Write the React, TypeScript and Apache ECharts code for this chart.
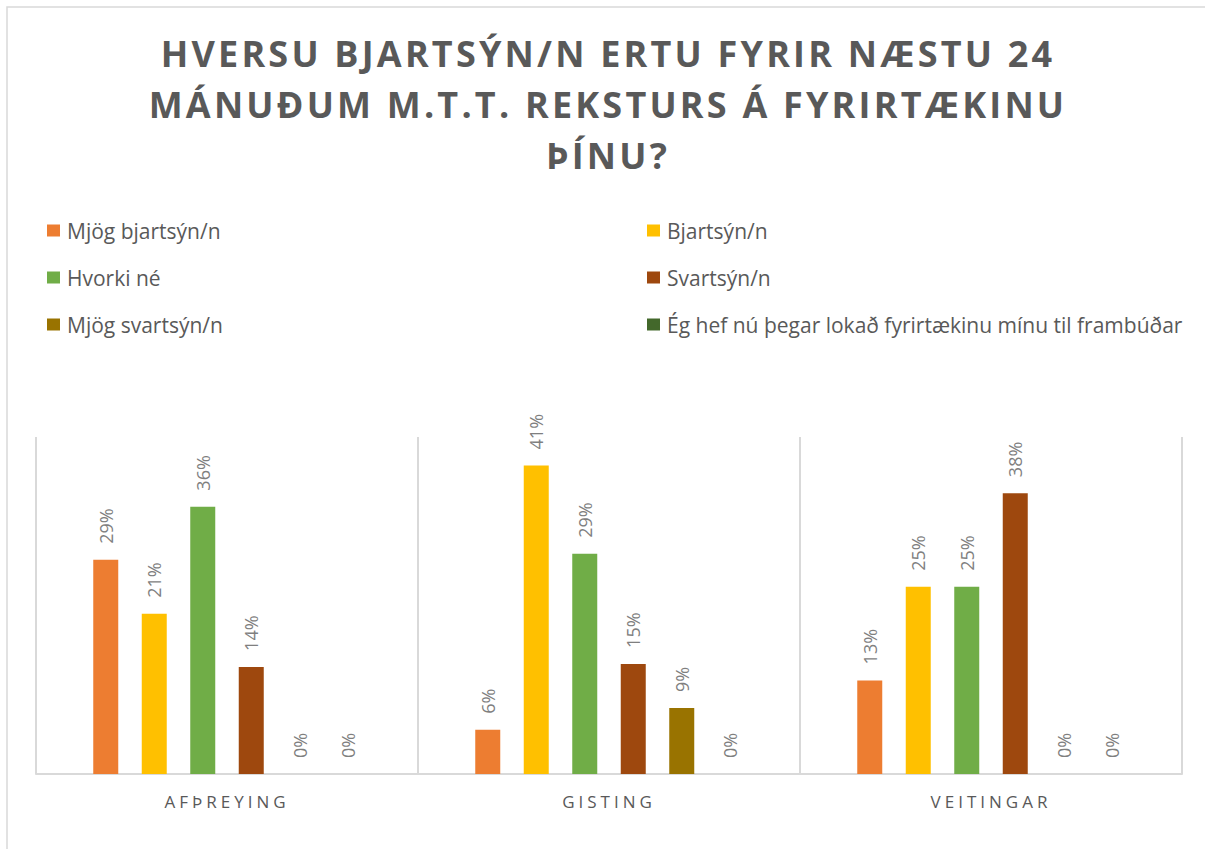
import React, { useEffect, useRef } from "react";
import * as echarts from "echarts";

const titleLines = [
  "HVERSU BJARTSÝN/N ERTU FYRIR NÆSTU 24",
  "MÁNUÐUM M.T.T. REKSTURS Á FYRIRTÆKINU",
  "ÞÍNU?",
];

const categories = ["AFÞREYING", "GISTING", "VEITINGAR"];

const seriesNames = [
  "Mjög bjartsýn/n",
  "Bjartsýn/n",
  "Hvorki né",
  "Svartsýn/n",
  "Mjög svartsýn/n",
  "Ég hef nú þegar lokað fyrirtækinu mínu til frambúðar",
];

const seriesColors = ["#ED7D31", "#FFC000", "#70AD47", "#9E480E", "#997300", "#43682B"];

// percent values per series: [Afþreying, Gisting, Veitingar]
const mjogBjartsyn = [28.6, 5.9, 12.5];
const bjartsyn = [21.4, 41.2, 25.0];
const hvorkiNe = [35.7, 29.4, 25.0];
const svartsyn = [14.3, 14.7, 37.5];
const mjogSvartsyn = [0, 8.8, 0];
const lokad = [0, 0, 0];

const seriesValues = [mjogBjartsyn, bjartsyn, hvorkiNe, svartsyn, mjogSvartsyn, lokad];

const FONT = "'Open Sans', 'Noto Sans', sans-serif";

export default function App() {
  const ref = useRef<HTMLDivElement>(null);

  useEffect(() => {
    if (!ref.current) return;
    const el = ref.current;
    const chart = echarts.init(el, undefined, { renderer: "svg" });

    const series = seriesNames.map((name, i) => ({
      name,
      type: "bar",
      data: seriesValues[i],
      barWidth: 25,
      barGap: "94%",
      itemStyle: { color: seriesColors[i] },
      label: {
        show: true,
        position: "top",
        rotate: 90,
        align: "left",
        verticalAlign: "middle",
        distance: 16,
        fontFamily: FONT,
        fontSize: 18,
        color: "#7F7F7F",
        formatter: (p: any) => `${Math.round(p.value)}%`,
      },
    }));

    const legendCommon = {
      orient: "vertical",
      itemWidth: 13,
      itemHeight: 12,
      itemGap: 26,
      icon: "rect",
      selectedMode: false,
      textStyle: { fontFamily: FONT, fontSize: 21, color: "#595959", lineHeight: 21, padding: [0, 0, 0, 2] },
    };

    chart.setOption({
      animation: false,
      backgroundColor: "#FFFFFF",
      title: {
        text: titleLines.join("\n"),
        left: 603,
        textAlign: "center",
        top: 23,
        textStyle: {
          fontFamily: FONT,
          fontSize: 36,
          fontWeight: "bold",
          color: "#595959",
          lineHeight: 51,
        },
      },
      legend: [
        { ...legendCommon, left: 42, top: 215, data: [seriesNames[0], seriesNames[2], seriesNames[4]] },
        { ...legendCommon, left: 642, top: 215, data: [seriesNames[1], seriesNames[3], seriesNames[5]] },
      ],
      grid: { left: 36, right: 23, top: 437, bottom: 75, containLabel: false },
      xAxis: {
        type: "category",
        data: categories,
        axisLine: { show: true, lineStyle: { color: "#D9D9D9", width: 2 } },
        axisTick: { show: false },
        splitLine: { show: true, lineStyle: { color: "#D9D9D9", width: 2 } },
        axisLabel: { fontFamily: FONT, fontSize: 17, color: "#595959", margin: 19 },
      },
      yAxis: {
        type: "value",
        min: 0,
        max: 45,
        show: false,
        splitLine: { show: false },
      },
      graphic: [
        {
          type: "rect",
          silent: true,
          z: -10,
          shape: { x: 7, y: 7, width: 1400, height: 1000 },
          style: { fill: "none", stroke: "#D9D9D9", lineWidth: 1.5 },
        },
      ],
      series,
    });

    const applySpacing = () => {
      const texts = el.querySelectorAll("text");
      texts.forEach((t) => {
        const s = (t.textContent || "").trim();
        if (titleLines.includes(s)) {
          (t as SVGTextElement).style.letterSpacing = "3.2px";
        } else if (categories.includes(s)) {
          (t as SVGTextElement).style.letterSpacing = "4px";
        }
      });
    };
    applySpacing();
    chart.on("finished", applySpacing);
    const t1 = setTimeout(applySpacing, 50);
    const t2 = setTimeout(applySpacing, 300);

    return () => {
      clearTimeout(t1);
      clearTimeout(t2);
      chart.dispose();
    };
  }, []);

  return (
    <div
      ref={ref}
      style={{ position: "fixed", left: 0, top: 0, width: 1205, height: 849, background: "#fff" }}
    />
  );
}
